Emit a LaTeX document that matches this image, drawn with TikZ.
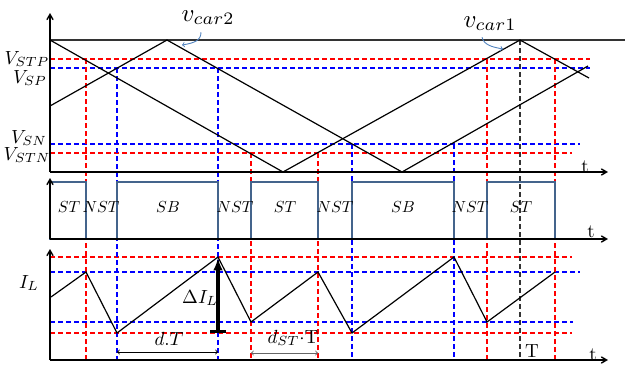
\documentclass[tikz,border=0pt]{standalone}
\usepackage{tikz}
\usepackage{amsmath}
\usetikzlibrary{arrows}
\definecolor{pulseblue}{RGB}{68,100,140}
\definecolor{callblue}{RGB}{80,130,190}

\begin{document}
\begin{tikzpicture}[x=1pt,y=-1pt,
		axis/.style={line width=1.4pt,->,>=angle 60},
		carrier/.style={line width=1.2pt},
		reddash/.style={red,dashed,dash pattern=on 5pt off 3pt,line width=1.2pt},
		bluedash/.style={blue,dashed,dash pattern=on 5pt off 3pt,line width=1.2pt},
		blackdash/.style={black!80,dashed,dash pattern=on 5pt off 3pt,line width=1.1pt},
		pulse/.style={pulseblue,line width=2.8pt},
		callout/.style={callblue,line width=0.9pt,->},
		lab/.style={scale=1.9,inner sep=0pt,anchor=base},
		biglab/.style={scale=2.5,inner sep=0pt,anchor=base},
		seg/.style={scale=1.6,inner sep=0pt}]
		\useasboundingbox (0,0) rectangle (628,365);
		\def\carone{(50,40) -- (283,172) -- (520,40) -- (589,78)};
		\def\cartwo{(50,106) -- (167,40) -- (402,172) -- (588,66)};
		% thresholds
		\draw[reddash] (50,59) -- (590,59);
		\draw[bluedash] (50,68) -- (590,68);
		\draw[bluedash] (50,144) -- (580,144);
		\draw[reddash] (50,153) -- (572,153);
		\draw[reddash] (50,257) -- (572,257);
		\draw[bluedash] (50,272) -- (580,272);
		\draw[bluedash] (50,322) -- (573,322);
		\draw[reddash] (50,333) -- (572,333);
		\foreach \x/\y in {86/59,251/153,318/153,487/59,555/59} \draw[reddash] (\x,\y) -- (\x,360);
		\foreach \x/\y in {117/68,218/68,352/144,454/144} \draw[bluedash] (\x,\y) -- (\x,360);
		\draw[blackdash] (520,40) -- (520,360);
		% carriers
		\draw[black!80,line width=1.4pt] (50,40) -- (625,40);
		\draw[carrier] \carone;
		\draw[carrier] \cartwo;
		% switching states
		\foreach \a/\b in {50/86,117/218,251/318,352/454,487/555} \draw[pulse] (\a,239) rectangle (\b,182);
		\foreach \x/\s in {69/ST,101/NST,168/SB,235/NST,285/ST,335/NST,403/SB,470/NST,521/ST} \node[seg] (s\x) at (\x,207) {$\s$};
		% inductor current
		\draw[carrier] (51,297) -- (86,272) -- (117,333) -- (218,257) -- (251,322) -- (318,272) -- (352,333) -- (454,257) -- (487,322) -- (555,272);
		\draw[line width=3.2pt,|-latex] (218,333) -- (218,258);
		\draw[line width=0.9pt,<->] (117,352) -- (218,352);
		\draw[black!60,line width=0.9pt,<->] (251,353) -- (318,353);
		% axes
		\draw[axis] (50,172) -- (50,13);
		\draw[axis] (50,172) -- (608,172);
		\draw[axis] (50,239) -- (50,178);
		\draw[axis] (50,239) -- (608,239);
		\draw[axis] (50,360) -- (50,249);
		\draw[axis] (50,360) -- (608,360);
		% labels
		\node[lab] (vstp) at (27,64) {$V_{STP}$};
		\node[lab] (vsp) at (30,83) {$V_{SP}$};
		\node[lab] (vsn) at (29,143) {$V_{SN}$};
		\node[lab] (vstn) at (27,160) {$V_{STN}$};
		\node[lab] (il) at (29,288) {$I_L$};
		\node[lab] (dil) at (200,303) {$\Delta I_L$};
		\node[lab] (dt) at (169,345) {$d.T$};
		\node[lab] (dstt) at (293,343) {$d_{ST}{\cdot}\mathrm{T}$};
		\node[lab] (tper) at (532,357) {T};
		\node[lab] (ta) at (585,172) {t};
		\node[lab] (tb) at (591,237) {t};
		\node[lab] (tc) at (593,360) {t};
		\node[biglab] (vcb) at (208,21) {$v_{car2}$};
		\node[biglab] (vca) at (490,27) {$v_{car1}$};
		\coordinate (tipb) at (182,45);
		\coordinate (tipa) at (503,49);
		\draw[callout] ([shift={(-7,7)}]vcb.south) .. controls (201,40) and (195,43) .. (tipb);
		\draw[callout] ([shift={(-8,6)}]vca.south) .. controls (484,45) and (492,47) .. (tipa);
	\end{tikzpicture}
\end{document}
